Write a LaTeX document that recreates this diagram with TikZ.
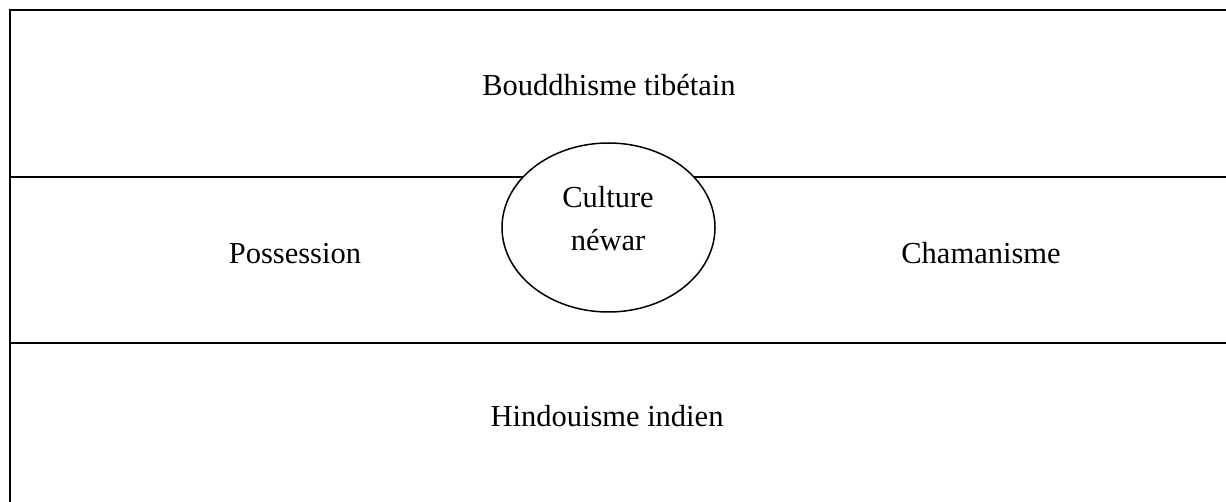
\documentclass[tikz,border=0pt]{standalone}
\usepackage{fontspec}
\setmainfont{Liberation Serif}
\usetikzlibrary{shapes.geometric}

\tikzset{
	band/.style={line width=2.2pt},
	label/.style={anchor=base,inner sep=0pt,font=\fontsize{30.5}{36}\selectfont},
	core/.style={ellipse,draw,line width=1.5pt,fill=white,minimum width=213pt,minimum height=169pt,inner sep=0pt}
}

\begin{document}
\begin{tikzpicture}[x=1pt,y=-1pt]
	\useasboundingbox (0,0) rectangle (1226,502);
	% Corners of the frame and the band borders
	\coordinate (TopLeft)  at (10,10);
	\coordinate (TopRight) at (1226,10);
	\coordinate (BotLeft)  at (10,502);
	\coordinate (UpL) at (10,177);
	\coordinate (UpR) at (1226,177);
	\coordinate (LowL) at (10,343);
	\coordinate (LowR) at (1226,343);
	
	\draw [band] (BotLeft) -- (TopLeft) -- (TopRight);
	\draw [band] (UpL) -- (UpR);
	\draw [band] (LowL) -- (LowR);
	
	% The ellipse sits on top of the upper border
	\node [core] (newar) at (608.5,227.5) {};
	\node [label] (culture) at (608,208) {Culture};
	\node [label] (newartext) at (608,251) {néwar};
	
	\node [label] (bouddhisme) at (609,96) {Bouddhisme tibétain};
	\node [label] (possession) at (295,264) {Possession};
	\node [label] (chamanisme) at (981,264) {Chamanisme};
	\node [label] (hindouisme) at (607,426) {Hindouisme indien};
	
\end{tikzpicture}
\end{document}
